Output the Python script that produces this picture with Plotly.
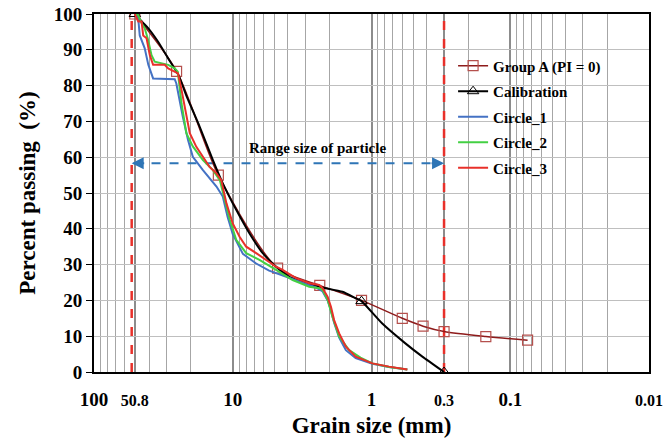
import math
import plotly.graph_objects as go

# ---------------- data ----------------
groupA_size = [50.8, 25.4, 12.7, 4.75, 2.36, 1.18, 0.6, 0.425, 0.3, 0.15, 0.075]
groupA_pass = [100, 84, 55, 29, 24.2, 20, 15, 12.8, 11.3, 9.9, 8.9]

calib_size = [50.8, 44.2, 40.6, 34.6, 29.2, 24.5, 21.6, 17.3, 13.9, 11.8, 9.44, 7.57, 6.08,
              4.87, 3.91, 3.31, 2.38, 1.62, 1.30, 1.18, 0.84, 0.57, 0.43, 0.3]
calib_pass = [100, 97.5, 96, 92.3, 87.6, 82.8, 77.2, 68.5, 59.2, 52.7, 45.3, 38.7, 33.2,
              29.4, 26.6, 25.5, 23.8, 22.4, 20.6, 19.8, 13.6, 8.0, 4.3, 0]
calib_mark_size = [50.8, 1.18, 0.3]
calib_mark_pass = [100, 19.8, 0]

c1_size = [50.8, 48.0, 46.8, 43.1, 40.6, 37.5, 26.2, 25.5, 22.9, 21.0, 19.4, 16.4, 13.1,
           11.8, 10.9, 10.0, 8.45, 6.78, 5.47, 4.13, 3.31, 2.51, 2.25, 2.07, 1.96, 1.86,
           1.71, 1.53, 1.30, 0.985, 0.748, 0.552]
c1_pass = [100, 98.8, 94, 90.4, 85.8, 82, 81.8, 80.6, 71.3, 64.8, 60.1, 56.4, 51.8,
           49, 43.4, 38.5, 33, 30.3, 28.3, 26.6, 25.2, 23.6, 22.5, 20, 17.2, 13.8,
           9.6, 6.1, 3.9, 2.3, 1.4, 0.7]

c2_size = [50.8, 48.0, 45.4, 43.1, 40.9, 38.5, 36.5, 29.2, 26.2, 24.9, 23.4, 21.6, 19.4,
           16.4, 13.9, 12.4, 10.5, 9.44, 8.0, 6.42, 4.87, 3.70, 2.81, 2.38, 2.25, 2.07,
           1.91, 1.71, 1.45, 1.2, 0.985, 0.748, 0.552]
c2_pass = [100, 99.7, 97.4, 96, 93, 88.5, 86.7, 85.8, 84.8, 83.9, 75, 66.7, 63,
           59.2, 56.4, 53.6, 42.5, 36.9, 33.2, 31.3, 28.5, 25.7, 23.8, 23.4, 22.9, 20.1,
           15.4, 9.9, 6.1, 4.0, 2.4, 1.4, 0.7]

c3_size = [50.8, 48.0, 45.4, 44.2, 41.8, 39.6, 37.5, 30.9, 29.2, 26.2, 24.8, 23.4, 21.6,
           20.4, 18.3, 16.4, 14.7, 13.1, 12.1, 11.1, 10.0, 8.93, 8.0, 6.78, 5.74, 4.87,
           4.37, 3.50, 2.81, 2.38, 2.25, 2.07, 1.96, 1.86, 1.71, 1.53, 1.30, 0.985, 0.748, 0.552]
c3_pass = [100, 97.9, 97.9, 94, 93.2, 88.5, 85.8, 85.8, 84.8, 83.9, 83.4, 78.8, 72.3,
           66.7, 62.9, 60.1, 57.3, 55.5, 53.6, 47.1, 41.5, 37.8, 35, 33.2, 31.3, 29.4,
           28.5, 26.2, 24.8, 24.3, 23.4, 21, 18.2, 14.5, 10.8, 7.1, 4.3, 2.4, 1.5, 0.7]

x_tickvals = [100, 50.8, 10, 1, 0.3, 0.1, 0.01]
x_ticktext = ["100", "<span style='font-size:16px'>50.8</span>", "10", "1",
              "<span style='font-size:16px'>0.3</span>", "0.1",
              "<span style='font-size:16px'>0.01</span>"]
minor_vals = [m * 10 ** e for e in (-2, -1, 0, 1) for m in range(2, 10)]

range_lo, range_hi = 53.5, 0.3      # dashed limit lines
range_y = 58.3
range_label = "Range size of particle"

FONT = "Liberation Serif, Times New Roman, serif"

fig = go.Figure()

# limit lines
for xv in (range_lo, range_hi):
    fig.add_trace(go.Scatter(x=[xv, xv], y=[0, 100], mode="lines",
                             line=dict(color="#E8302A", width=2.5, dash="dash"),
                             showlegend=False, hoverinfo="skip"))
# range arrow line
fig.add_trace(go.Scatter(x=[range_lo * 0.97, range_hi * 1.04], y=[range_y, range_y], mode="lines",
                         line=dict(color="#2E75B6", width=2, dash="dash"),
                         showlegend=False, hoverinfo="skip"))

fig.add_trace(go.Scatter(x=groupA_size, y=groupA_pass, mode="lines+markers", name="Group A (PI = 0)",
                         line=dict(color="#8E1B1B", width=1.5, shape="spline", smoothing=0.8),
                         marker=dict(symbol="square-open", size=10, color="#B5504D", line=dict(width=1.2)),
                         legendrank=1, legendgroup="a"))
fig.add_trace(go.Scatter(x=calib_size, y=calib_pass, mode="lines",
                         line=dict(color="black", width=2, shape="spline", smoothing=0.5),
                         showlegend=False))
fig.add_trace(go.Scatter(x=calib_mark_size, y=calib_mark_pass, mode="markers",
                         marker=dict(symbol="triangle-up-open", size=10, color="black", line=dict(width=1)),
                         showlegend=False))
fig.add_trace(go.Scatter(x=[None], y=[None], mode="lines+markers", name="Calibration",
                         line=dict(color="black", width=2),
                         marker=dict(symbol="triangle-up-open", size=10, color="black", line=dict(width=1)),
                         legendrank=2, legendgroup="b"))
fig.add_trace(go.Scatter(x=c1_size, y=c1_pass, mode="lines", name="Circle_1",
                         line=dict(color="#4472C4", width=2), legendrank=3, legendgroup="c"))
fig.add_trace(go.Scatter(x=c2_size, y=c2_pass, mode="lines", name="Circle_2",
                         line=dict(color="#43D043", width=2), legendrank=4, legendgroup="d"))
fig.add_trace(go.Scatter(x=c3_size, y=c3_pass, mode="lines", name="Circle_3",
                         line=dict(color="#E8302A", width=2), legendrank=5, legendgroup="e"))

# arrow heads
for tip, off in ((range_lo, 14), (range_hi, -14)):
    fig.add_annotation(x=math.log10(tip), y=range_y, xref="x", yref="y", text="",
                       showarrow=True, arrowhead=2, arrowsize=1.2, arrowwidth=2,
                       arrowcolor="#2E75B6", ax=off, ay=0)
fig.add_annotation(x=math.log10(2.45), y=62.6, xref="x", yref="y", text=range_label,
                   showarrow=False, font=dict(family=FONT, size=15, color="black", weight="bold"))

fig.update_layout(
    width=666, height=445,
    margin=dict(l=94, r=17, t=14, b=73),
    paper_bgcolor="white", plot_bgcolor="white",
    font=dict(family=FONT, size=15, color="black", weight="bold"),
    legend=dict(x=0.647, y=0.901, xanchor="left", yanchor="top", bgcolor="rgba(0,0,0,0)",
                font=dict(family=FONT, size=15, weight="bold"), itemwidth=30,
                tracegroupgap=3),
    showlegend=True,
)
fig.update_xaxes(type="log", range=[2, -2], tickmode="array", tickvals=x_tickvals, ticktext=x_ticktext,
                 showgrid=True, gridcolor="#8C8C8C", gridwidth=2,
                 minor=dict(tickmode="array", tickvals=minor_vals, showgrid=True,
                            gridcolor="#A6A6A6", gridwidth=1, ticks=""),
                 ticks="outside", ticklen=9, tickcolor="rgba(0,0,0,0)",
                 ticklabeloverflow="allow",
                 showline=True, linecolor="black", linewidth=2, mirror=True, zeroline=False,
                 automargin=False,
                 title=dict(text="Grain size (mm)", font=dict(family=FONT, size=23, weight="bold"), standoff=8),
                 tickfont=dict(family=FONT, size=19, weight="bold"))
fig.update_yaxes(range=[0, 100], dtick=10, showgrid=True, gridcolor="#BFBFBF", gridwidth=1,
                 ticks="outside", ticklen=6, tickcolor="black", tickwidth=1,
                 showline=True, linecolor="black", linewidth=2, mirror=True, zeroline=False,
                 automargin=False,
                 title=dict(text="Percent passing  (%)", font=dict(family=FONT, size=23, weight="bold"), standoff=12),
                 tickfont=dict(family=FONT, size=19, weight="bold"))

fig.write_html("out.html")
